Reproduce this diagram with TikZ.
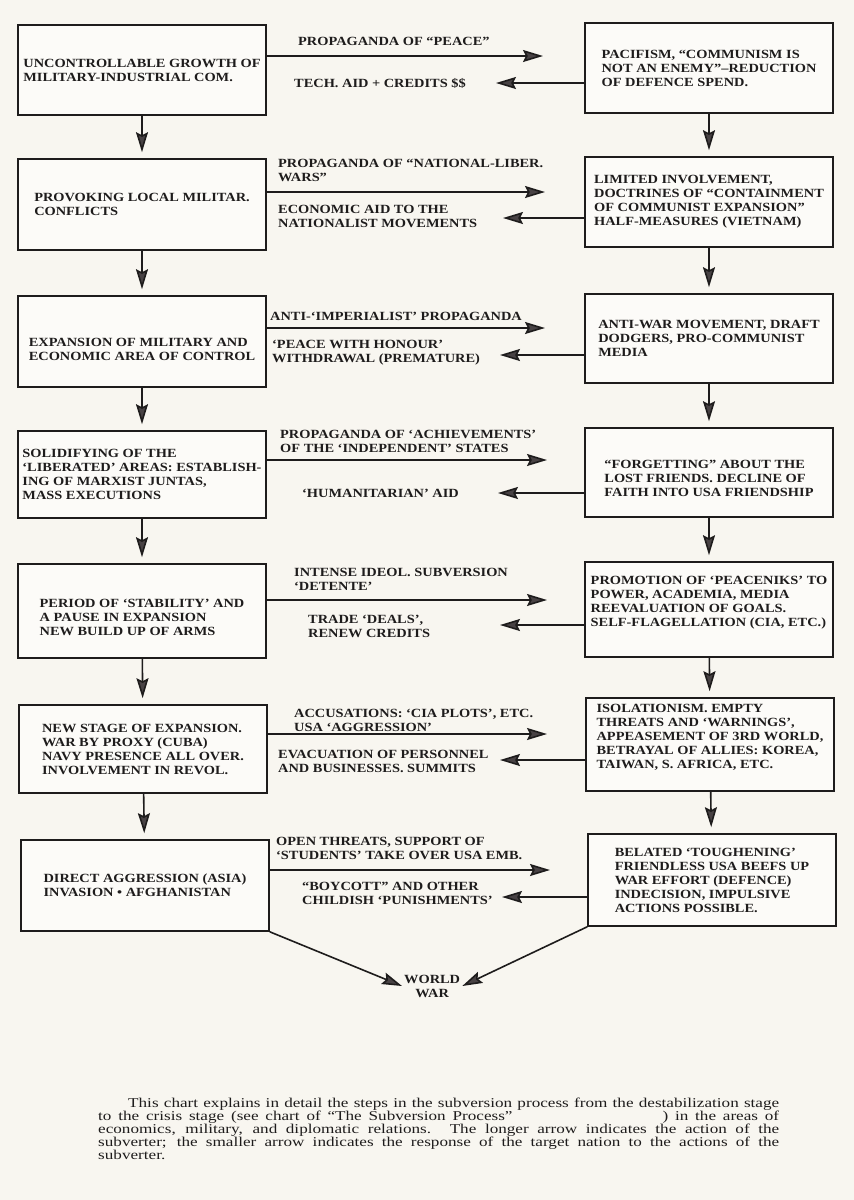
\documentclass[tikz,border=0pt]{standalone}
\usepackage{fontspec}
\setmainfont{Liberation Serif}[FakeStretch=1.15]
\newfontfamily\notefont{Liberation Serif}[FakeStretch=1.27]
\usetikzlibrary{arrows.meta,positioning}

\definecolor{paper}{RGB}{248,246,240}
\definecolor{ink}{RGB}{30,28,28}
\definecolor{headgray}{RGB}{72,66,68}

\tikzset{
  stage/.style={draw=ink, line width=1.6pt, fill=white!55!paper, minimum width=248pt,
    minimum height=90pt, align=left, inner sep=4pt, text=ink,
    font=\bfseries\fontsize{12.5}{14}\selectfont},
  msg/.style={anchor=west, align=left, inner sep=0pt, text=ink,
    font=\bfseries\fontsize{12.5}{14}\selectfont},
  flow/.style={color=ink, line width=1.6pt,
    -{Stealth[length=20pt,width=12pt,inset=3pt,fill=headgray]}},
}

\begin{document}
\begin{tikzpicture}[x=1pt,y=-1pt]
	\fill[paper] (0,0) rectangle (854,1200);
	\useasboundingbox (0,0) rectangle (854,1200);

	% subverter (left) and target nation (right)
	\node[stage] (l1) at (142,70) {UNCONTROLLABLE GROWTH OF\\MILITARY-INDUSTRIAL COM.};
	\node[stage] (r1) at (709,68) {PACIFISM, “COMMUNISM IS\\NOT AN ENEMY”–REDUCTION\\OF DEFENCE SPEND.};

	\node[stage, minimum height=91pt] (l2) at (142,204.5) {PROVOKING LOCAL MILITAR.\\CONFLICTS};
	\node[stage] (r2) at (709,202) {LIMITED INVOLVEMENT,\\DOCTRINES OF “CONTAINMENT\\OF COMMUNIST EXPANSION”\\HALF-MEASURES (VIETNAM)};

	\node[stage, minimum height=91pt, text height=38pt] (l3) at (142,341.5) {EXPANSION OF MILITARY AND\\ECONOMIC AREA OF CONTROL};
	\node[stage, minimum height=89pt] (r3) at (709,338.5) {ANTI-WAR MOVEMENT, DRAFT\\DODGERS, PRO-COMMUNIST\\MEDIA};

	\node[stage, minimum height=87pt] (l4) at (142,474.5) {SOLIDIFYING OF THE\\‘LIBERATED’ AREAS: ESTABLISH-\\ING OF MARXIST JUNTAS,\\MASS EXECUTIONS};
	\node[stage, minimum height=89pt, text height=49pt] (r4) at (709,472.5) {“FORGETTING” ABOUT THE\\LOST FRIENDS. DECLINE OF\\FAITH INTO USA FRIENDSHIP};

	\node[stage, minimum height=94pt, text height=49pt] (l5) at (142,611) {PERIOD OF ‘STABILITY’ AND\\A PAUSE IN EXPANSION\\NEW BUILD UP OF ARMS};
	\node[stage, minimum height=95pt, text depth=16pt] (r5) at (709,609.5) {PROMOTION OF ‘PEACENIKS’ TO\\POWER, ACADEMIA, MEDIA\\REEVALUATION OF GOALS.\\SELF-FLAGELLATION (CIA, ETC.)};

	\node[stage, minimum height=88pt] (l6) at (143,749) {NEW STAGE OF EXPANSION.\\WAR BY PROXY (CUBA)\\NAVY PRESENCE ALL OVER.\\INVOLVEMENT IN REVOL.};
	\node[stage, minimum height=93pt, text depth=16pt] (r6) at (710,744.5) {ISOLATIONISM. EMPTY\\THREATS AND ‘WARNINGS’,\\APPEASEMENT OF 3RD WORLD,\\BETRAYAL OF ALLIES: KOREA,\\TAIWAN, S. AFRICA, ETC.};

	\node[stage, minimum height=91pt] (l7) at (145,885.5) {DIRECT AGGRESSION (ASIA)\\INVASION • AFGHANISTAN};
	\node[stage, minimum height=92pt] (r7) at (712,880) {BELATED ‘TOUGHENING’\\FRIENDLESS USA BEEFS UP\\WAR EFFORT (DEFENCE)\\INDECISION, IMPULSIVE\\ACTIONS POSSIBLE.};

	\node[msg, align=center, inner sep=2pt] (war) at (402,986) {WORLD\\WAR};

	% actions and responses
	\node[msg] (a1) at (298,41) {PROPAGANDA OF “PEACE”};
	\node[msg] (b1) at (294,83) {TECH. AID + CREDITS \$\$};
	\node[msg] (a2) at (278,170) {PROPAGANDA OF “NATIONAL-LIBER.\\WARS”};
	\node[msg] (b2) at (278,216.5) {ECONOMIC AID TO THE\\NATIONALIST MOVEMENTS};
	\node[msg] (a3) at (270,316) {ANTI-‘IMPERIALIST’ PROPAGANDA};
	\node[msg] (b3) at (272,353) {‘PEACE WITH HONOUR’\\WITHDRAWAL (PREMATURE)};
	\node[msg] (a4) at (280,441) {PROPAGANDA OF ‘ACHIEVEMENTS’\\OF THE ‘INDEPENDENT’ STATES};
	\node[msg] (b4) at (302,493) {‘HUMANITARIAN’ AID};
	\node[msg] (a5) at (294,579) {INTENSE IDEOL. SUBVERSION\\‘DETENTE’};
	\node[msg] (b5) at (308,626) {TRADE ‘DEALS’,\\RENEW CREDITS};
	\node[msg] (a6) at (294,720) {ACCUSATIONS: ‘CIA PLOTS’, ETC.\\USA ‘AGGRESSION’};
	\node[msg] (b6) at (278,761) {EVACUATION OF PERSONNEL\\AND BUSINESSES. SUMMITS};
	\node[msg] (a7) at (276,848) {OPEN THREATS, SUPPORT OF\\‘STUDENTS’ TAKE OVER USA EMB.};
	\node[msg] (b7) at (302,893) {“BOYCOTT” AND OTHER\\CHILDISH ‘PUNISHMENTS’};

	% arrow tips
	\coordinate (pa1) at (543,56);  \coordinate (pb1) at (496,83);
	\coordinate (pa2) at (545,192); \coordinate (pb2) at (503,218);
	\coordinate (pa3) at (545,328); \coordinate (pb3) at (500,355);
	\coordinate (pa4) at (547,460); \coordinate (pb4) at (498,493);
	\coordinate (pa5) at (547,600); \coordinate (pb5) at (500,625);
	\coordinate (pa6) at (547,734); \coordinate (pb6) at (500,760);
	\coordinate (pa7) at (550,870); \coordinate (pb7) at (502,897);

	\path[flow]
	(l1.east |- pa1) edge (pa1)
	(r1.west |- pb1) edge (pb1)
	(l2.east |- pa2) edge (pa2)
	(r2.west |- pb2) edge (pb2)
	(l3.east |- pa3) edge (pa3)
	(r3.west |- pb3) edge (pb3)
	(l4.east |- pa4) edge (pa4)
	(r4.west |- pb4) edge (pb4)
	(l5.east |- pa5) edge (pa5)
	(r5.west |- pb5) edge (pb5)
	(l6.east |- pa6) edge (pa6)
	(r6.west |- pb6) edge (pb6)
	(l7.east |- pa7) edge (pa7)
	(r7.west |- pb7) edge (pb7)
	;

	\path[flow, shorten >=6pt]
	(l1) edge (l2) (l2) edge (l3) (l3) edge (l4)
	(l4) edge (l5) (l5) edge (l6) (l6) edge (l7)
	(r1) edge (r2) (r2) edge (r3) (r3) edge (r4)
	(r4) edge (r5) (r5) edge (r6) (r6) edge (r7)
	;

	\path[flow]
	(l7.south east) edge (war.west)
	(r7.south west) edge (war.east)
	;

	% caption
	\node[anchor=north west, text width=681pt, align=justify, inner sep=0pt, text=ink,
	  font=\notefont\fontsize{13.5}{13}\selectfont] (note) at (98,1098)
	{\hspace*{30pt}This chart explains in detail the steps in the subversion process from the destabilization stage\linebreak
	to the crisis stage (see chart of “The Subversion Process”\hspace{150pt}) in the areas of\linebreak
	economics, military, and diplomatic relations. The longer arrow indicates the action of the\linebreak
	subverter; the smaller arrow indicates the response of the target nation to the actions of the\linebreak
	subverter.};
\end{tikzpicture}
\end{document}
